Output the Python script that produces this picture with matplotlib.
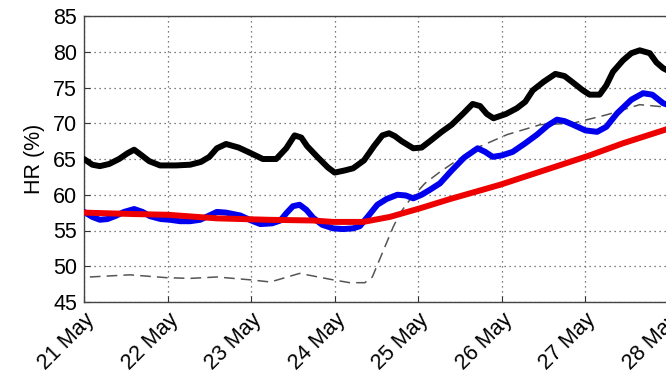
import matplotlib
matplotlib.use("Agg")
import matplotlib.pyplot as plt

plt.rcParams['font.family'] = ['Liberation Sans', 'DejaVu Sans']

# x positions in days after 21 May
tick_labels = ['21 May', '22 May', '23 May', '24 May', '25 May', '26 May', '27 May', '28 May']
y_ticks = [45, 50, 55, 60, 65, 70, 75, 80, 85]

black_x = [0, 0.10, 0.19, 0.30, 0.42, 0.52, 0.60, 0.68, 0.78, 0.91, 1.10, 1.27, 1.40, 1.50, 1.59, 1.70, 1.85, 1.98,
           2.14, 2.30, 2.42, 2.52, 2.60, 2.67, 2.80, 2.92, 3.00, 3.12, 3.22, 3.35, 3.47, 3.57, 3.65, 3.72, 3.80,
           3.94, 4.04, 4.14, 4.28, 4.40, 4.55, 4.65, 4.74, 4.82, 4.90, 5.05, 5.18, 5.28, 5.37, 5.50, 5.64, 5.75,
           5.85, 5.97, 6.05, 6.17, 6.25, 6.33, 6.45, 6.55, 6.65, 6.77, 6.85, 6.93, 7.13]
black_y = [65.0, 64.2, 64.0, 64.3, 65.0, 65.8, 66.3, 65.6, 64.7, 64.1, 64.1, 64.2, 64.6, 65.3, 66.5, 67.1, 66.6,
           65.9, 65.0, 65.0, 66.5, 68.3, 68.0, 66.8, 65.2, 63.8, 63.1, 63.4, 63.7, 64.8, 66.8, 68.3, 68.6, 68.2,
           67.5, 66.5, 66.6, 67.5, 68.8, 69.8, 71.5, 72.7, 72.4, 71.3, 70.7, 71.3, 72.1, 73.0, 74.6, 75.8, 76.9,
           76.6, 75.7, 74.6, 74.0, 74.0, 75.3, 77.2, 78.8, 79.8, 80.2, 79.8, 78.5, 77.7, 76.5]

blue_x = [0, 0.10, 0.19, 0.28, 0.37, 0.48, 0.60, 0.70, 0.79, 0.92, 1.03, 1.15, 1.27, 1.39, 1.50, 1.59, 1.70, 1.87,
          2.00, 2.11, 2.25, 2.35, 2.42, 2.50, 2.58, 2.66, 2.74, 2.85, 2.98, 3.10, 3.22, 3.30, 3.40, 3.51, 3.62,
          3.75, 3.85, 3.94, 4.04, 4.14, 4.26, 4.40, 4.55, 4.71, 4.80, 4.89, 5.00, 5.13, 5.28, 5.42, 5.55, 5.66,
          5.75, 5.85, 6.00, 6.14, 6.25, 6.38, 6.55, 6.69, 6.80, 6.93, 7.13]
blue_y = [57.6, 56.9, 56.5, 56.6, 57.0, 57.6, 58.0, 57.6, 57.0, 56.6, 56.5, 56.3, 56.3, 56.5, 57.1, 57.6, 57.5,
          57.1, 56.4, 55.9, 56.0, 56.4, 57.4, 58.4, 58.6, 57.9, 56.8, 55.8, 55.3, 55.2, 55.3, 55.6, 57.0, 58.6,
          59.4, 60.0, 59.9, 59.5, 60.0, 60.7, 61.6, 63.4, 65.2, 66.5, 66.0, 65.3, 65.5, 66.0, 67.2, 68.4, 69.7,
          70.5, 70.3, 69.8, 69.0, 68.8, 69.5, 71.4, 73.3, 74.2, 74.0, 72.8, 72.0]

red_x = [0, 0.60, 1.00, 1.59, 2.20, 2.74, 2.98, 3.34, 3.66, 4.02, 4.38, 4.98, 5.66, 6.05, 6.45, 6.93, 7.13]
red_y = [57.5, 57.3, 57.2, 56.7, 56.5, 56.4, 56.2, 56.2, 56.9, 58.1, 59.4, 61.4, 64.0, 65.5, 67.2, 69.0, 69.8]

dash_x = [0.07, 0.55, 0.99, 1.27, 1.59, 1.99, 2.23, 2.58, 2.98, 3.18, 3.36, 3.45, 3.60, 3.70, 3.78, 3.90, 4.08,
          4.26, 4.65, 5.06, 5.46, 5.85, 6.26, 6.65, 6.93, 7.13]
dash_y = [48.5, 48.8, 48.4, 48.3, 48.5, 48.1, 47.8, 49.0, 48.1, 47.7, 47.7, 48.5, 52.7, 55.5, 57.4, 59.3, 61.6,
          63.2, 66.3, 68.4, 69.8, 70.0, 71.2, 72.6, 72.3, 72.0]

fig = plt.figure(figsize=(6.66, 3.76), dpi=100)
ax = fig.add_axes([84/666, 74/376, 601.7/666, 286/376])

ax.plot(dash_x, dash_y, color='#555555', lw=1.1, ls=(0, (7, 4)), zorder=2)
ax.plot(black_x, black_y, color='black', lw=4.3, solid_joinstyle='round', solid_capstyle='round', zorder=3)
ax.plot(blue_x, blue_y, color='#0000ee', lw=4.3, solid_joinstyle='round', solid_capstyle='round', zorder=4)
ax.plot(red_x, red_y, color='#ee0000', lw=4.3, solid_joinstyle='round', solid_capstyle='round', zorder=5)

ax.set_xlim(0, 7.2)
ax.set_ylim(45, 85)
ax.set_xticks(range(len(tick_labels)))
ax.set_xticklabels(tick_labels, rotation=45, ha='right', rotation_mode='anchor')
ax.set_yticks(y_ticks)
ax.tick_params(direction='in', labelsize=15.5, length=4, color='#333333', pad=5)
ax.grid(True, ls=(0, (1, 3)), color='#555555', lw=0.9)
for s in ax.spines.values():
    s.set_color('#444444')
    s.set_linewidth(1.0)
ax.set_ylabel('HR (%)', fontsize=15.5, labelpad=6)

fig.savefig('out.png', dpi=100)
